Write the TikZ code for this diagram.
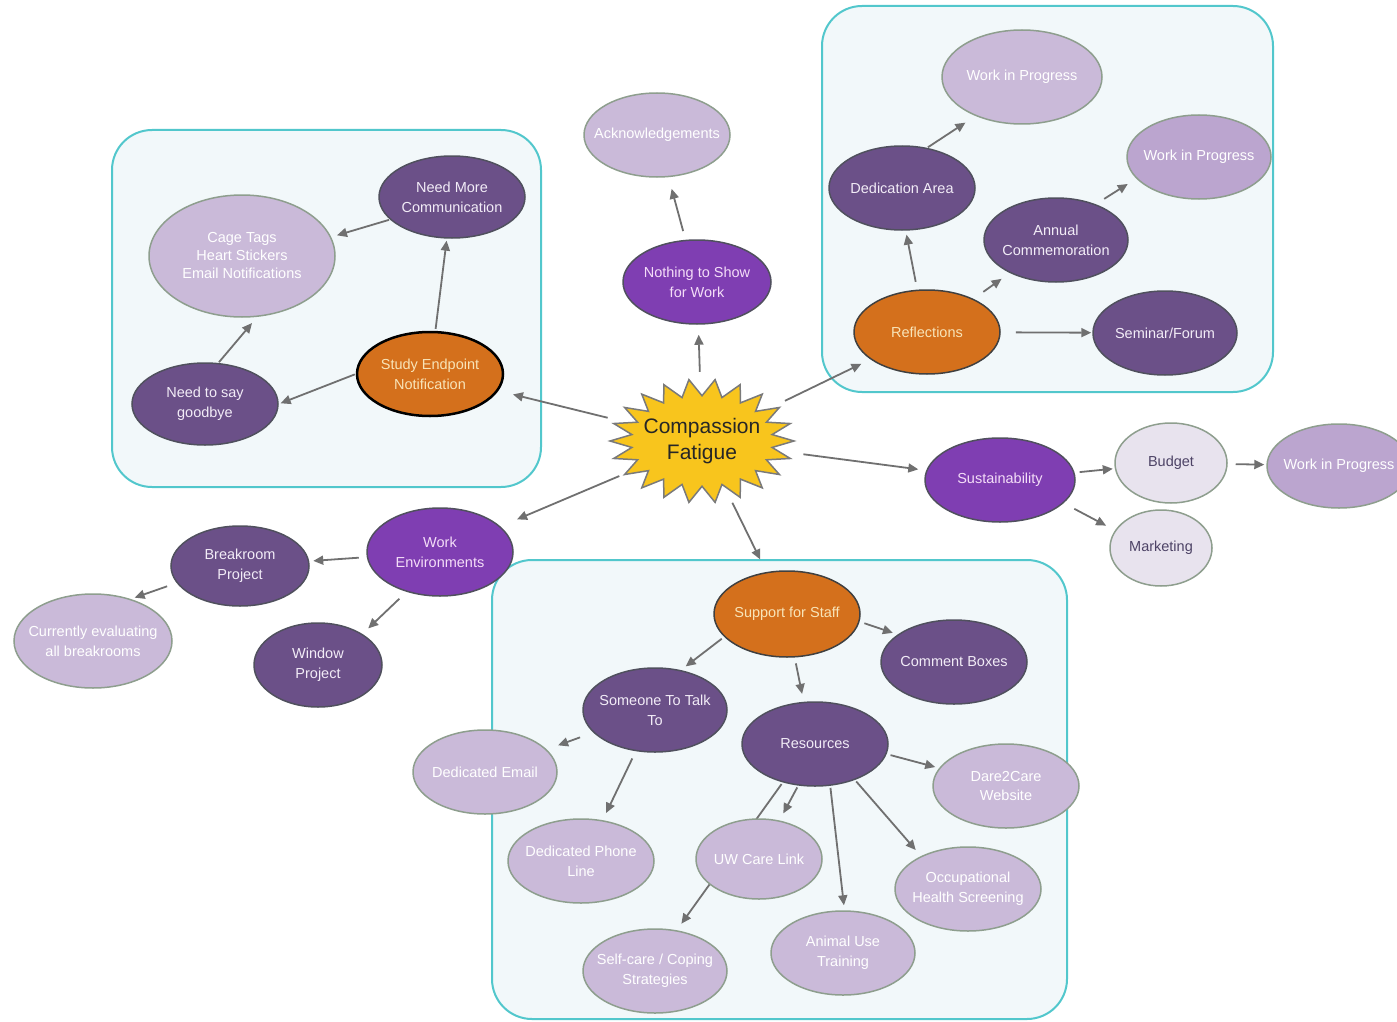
\documentclass[tikz,border=0pt]{standalone}
\usepackage{fontspec}
\setmainfont{Liberation Sans}
\usetikzlibrary{shapes.geometric,arrows.meta}
\pgfdeclarelayer{bg}
\pgfdeclarelayer{edges}
\pgfsetlayers{bg,edges,main}
\definecolor{darkp}{HTML}{6B5088}
\definecolor{brightp}{HTML}{7F3EB2}
\definecolor{lightp}{HTML}{CABAD9}
\definecolor{lightq}{HTML}{BBA5CF}
\definecolor{palep}{HTML}{E8E3EE}
\definecolor{orng}{HTML}{D4701C}
\definecolor{orngt}{HTML}{F8E4B8}
\definecolor{darkt}{HTML}{F2ECF7}
\definecolor{brightt}{HTML}{F4DDF8}
\definecolor{palet}{HTML}{4D4366}
\definecolor{darkb}{HTML}{50505E}
\definecolor{lightb}{HTML}{8E9E8E}
\definecolor{orngb}{HTML}{404040}
\definecolor{arrc}{HTML}{707070}
\definecolor{grpb}{HTML}{52C7CC}
\definecolor{grpf}{HTML}{F2F8FA}
\definecolor{starc}{HTML}{F8C51D}
\definecolor{starb}{HTML}{7A7A7A}
\begin{document}
\begin{tikzpicture}[x=1pt,y=-1pt,
  base/.style={ellipse, inner xsep=-24pt, inner ysep=-12pt, align=center, font=\fontsize{14.5}{20}\selectfont, line width=1.5pt},
  sz/.style 2 args={minimum width=#1pt, minimum height=#2pt},
  dark/.style={base, fill=darkp, draw=darkb, text=darkt},
  bright/.style={base, fill=brightp, draw=darkb, text=brightt},
  light/.style={base, fill=lightp, draw=lightb, text=white},
  lightd/.style={base, fill=lightq, draw=lightb, text=white},
  pale/.style={base, fill=palep, draw=lightb, text=palet},
  orange/.style={base, fill=orng, draw=orngb, text=orngt},
  arr/.style={-{Triangle[length=10pt,width=9pt]}, line width=1.8pt, draw=arrc},
  sh/.style 2 args={shorten <=#1pt, shorten >=#2pt},
  grp/.style={draw=grpb, fill=grpf, line width=2pt, rounded corners=40pt}
]
\useasboundingbox (0,0) rectangle (1397,1022);

\begin{pgfonlayer}{bg}
  \path[grp] (112,130) rectangle (541,487);
  \path[grp] (822,6) rectangle (1273,392);
  \path[grp] (492,560) rectangle (1067,1019);
\end{pgfonlayer}

% central star
\path[fill=starc, draw=starb, line width=1.5pt] (794,441)
  \foreach \i in {1,...,43}{ -- ({702+92*(1-0.23*mod(\i,2))*cos(\i*360/44)},{441+62*(1-0.27*mod(\i,2))*sin(\i*360/44)}) } -- cycle;
\node[ellipse, inner sep=-20pt, sz={184}{124}, align=center, text=black!85, font=\fontsize{21}{26}\selectfont] (cf) at (702,441) {Compassion\\Fatigue};

% left group
\node[orange, sz={146}{84}, draw=black, line width=2.5pt] (study) at (430,374) {Study Endpoint\\Notification};
\node[dark, sz={146}{82}] (needmore) at (452,197) {Need More\\Communication};
\node[light, sz={186}{122}, font=\fontsize{14.5}{18}\selectfont] (cage) at (242,256) {Cage Tags\\Heart Stickers\\Email Notifications};
\node[dark, sz={146}{82}] (goodbye) at (205,404) {Need to say\\goodbye};

% top middle
\node[light, sz={146}{84}] (ack) at (657,135) {Acknowledgements};
\node[bright, sz={148}{84}] (nothing) at (697,282) {Nothing to Show\\for Work};

% top right group
\node[light, sz={160}{94}] (wipa) at (1022,77) {Work in Progress};
\node[lightd, sz={144}{84}] (wipb) at (1199,157) {Work in Progress};
\node[dark, sz={146}{84}] (ded) at (902,188) {Dedication Area};
\node[dark, sz={144}{84}] (annual) at (1056,240) {Annual\\Commemoration};
\node[orange, sz={146}{84}] (refl) at (927,332) {Reflections};
\node[dark, sz={144}{84}] (seminar) at (1165,333) {Seminar/Forum};

% right
\node[bright, sz={150}{84}] (sust) at (1000,480) {Sustainability};
\node[pale, sz={112}{80}] (budget) at (1171,463) {Budget};
\node[lightd, sz={144}{84}] (wipc) at (1339,466) {Work in Progress};
\node[pale, sz={102}{76}] (mkt) at (1161,548) {Marketing};

% left lower
\node[bright, sz={146}{88}] (workenv) at (440,552) {Work\\Environments};
\node[dark, sz={138}{80}] (breakr) at (240,566) {Breakroom\\Project};
\node[light, sz={158}{94}] (curr) at (93,641) {Currently evaluating\\all breakrooms};
\node[dark, sz={128}{84}] (window) at (318,665) {Window\\Project};

% bottom group
\node[orange, sz={146}{86}] (support) at (787,614) {Support for Staff};
\node[dark, sz={146}{84}] (comment) at (954,662) {Comment Boxes};
\node[dark, sz={144}{84}] (someone) at (655,710) {Someone To Talk\\To};
\node[dark, sz={146}{84}] (res) at (815,744) {Resources};
\node[light, sz={144}{84}] (email) at (485,772) {Dedicated Email};
\node[light, sz={146}{84}] (dare) at (1006,786) {Dare2Care\\Website};
\node[light, sz={146}{84}] (phone) at (581,861) {Dedicated Phone\\Line};
\node[light, sz={126}{80}] (uw) at (759,859) {UW Care Link};
\node[light, sz={146}{84}] (occ) at (968,889) {Occupational\\Health Screening};
\node[light, sz={144}{84}] (self) at (655,971) {Self-care / Coping\\Strategies};
\node[light, sz={144}{84}] (animal) at (843,953) {Animal Use\\Training};

\begin{pgfonlayer}{edges}
  \draw[arr, sh={8}{15}] (cf) -- (study);
  \draw[arr, sh={7}{10}] (cf) -- (nothing);
  \draw[arr, sh={9}{12}] (nothing) -- (ack);
  \draw[arr, sh={9}{10}] (cf) -- (refl);
  \draw[arr, sh={11}{8}] (cf) -- (sust);
  \draw[arr, sh={5}{18}] (cf) -- (workenv);
  \draw[arr, sh={3}{14}] (cf) -- (support);

  \draw[arr, sh={2}{2}] (study) -- (needmore);
  \draw[arr, sh={1}{2}] (study.180) -- (goodbye.0);
  \draw[arr, sh={1}{6}] (needmore.200) -- (cage.12);
  \draw[arr, sh={1}{8}] (goodbye.72) -- (cage.-76);

  \draw[arr, sh={8}{4}] (refl.103) -- (ded.-85);
  \draw[arr, sh={1}{12}] (ded.58) -- (wipa.220);
  \draw[arr, sh={12}{10}] (refl) -- (annual);
  \draw[arr, sh={10}{10}] (annual.42) -- (wipb.199);
  \draw[arr, sh={15}{1}] (refl) -- (seminar);

  \draw[arr, sh={5}{2}] (sust) -- (budget);
  \draw[arr, sh={8}{2}] (budget) -- (wipc);
  \draw[arr, sh={12}{10}] (sust.-20) -- (mkt.159);

  \draw[arr, sh={8}{4}] (workenv) -- (breakr);
  \draw[arr, sh={10}{8}] (workenv.-130) -- (window.35);
  \draw[arr, sh={10}{4}] (breakr.195) -- (curr.48);

  \draw[arr, sh={3}{6}] (support.200) -- (someone.57);
  \draw[arr, sh={5}{5}] (support.-6) -- (comment.154);
  \draw[arr, sh={6}{8}] (support.-80) -- (res.105);
  \draw[arr, sh={14}{12}] (someone) -- (email);
  \draw[arr, sh={8}{8}] (someone.-115) -- (phone.62);
  \draw[arr, sh={4}{4}] (res.-8) -- (dare.165);
  \draw[arr, sh={2}{8}] (res.-112) -- (uw.62);
  \draw[arr, sh={2}{5}] (res.-70) -- (animal.88);
  \draw[arr, sh={2}{8}] (res.-42) -- (occ.145);
  \draw[arr, sh={2}{8}] (res.-130) -- (self.62);
\end{pgfonlayer}
\end{tikzpicture}
\end{document}
